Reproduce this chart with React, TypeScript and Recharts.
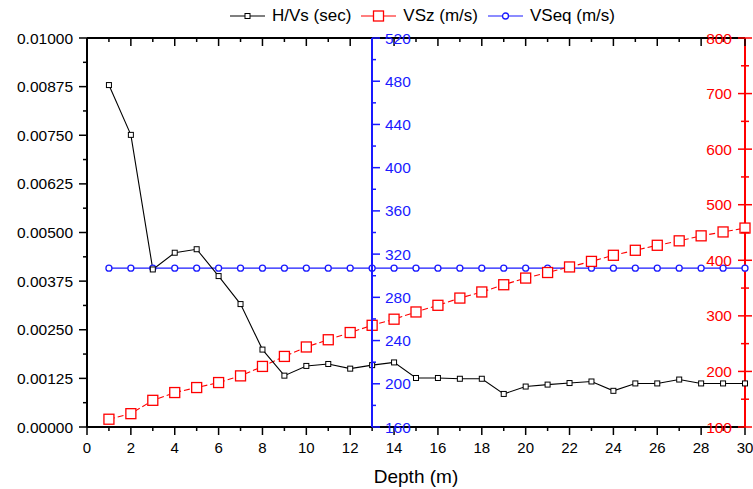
import React from "react";
import { LineChart, Line, XAxis, YAxis, Legend } from "recharts";

const W = 753;
const H = 489;

const depth = [1, 2, 3, 4, 5, 6, 7, 8, 9, 10, 11, 12, 13, 14, 15, 16, 17, 18, 19, 20, 21, 22, 23, 24, 25, 26, 27, 28, 29, 30];
const hvs = [
  0.00879, 0.00751, 0.00405, 0.00448, 0.00457, 0.00388, 0.00316, 0.00199, 0.00132, 0.00157,
  0.00162, 0.0015, 0.00159, 0.00166, 0.00126, 0.00126, 0.00124, 0.00124, 0.00085, 0.00104,
  0.00109, 0.00113, 0.00117, 0.00093, 0.00112, 0.00112, 0.00122, 0.00112, 0.00112, 0.00112,
];
const vsz = [
  114, 124, 148, 162, 171, 180, 192, 209, 227, 244,
  257, 270, 283, 294, 307, 319, 332, 343, 356, 368,
  378, 388, 398, 409, 418, 427, 435, 444, 451, 458,
];
const vseq = [
  307, 307, 307, 307, 307, 307, 307, 307, 307, 307,
  307, 307, 307, 307, 307, 307, 307, 307, 307, 307,
  307, 307, 307, 307, 307, 307, 307, 307, 307, 307,
];

const depthTicks = [0, 1, 2, 3, 4, 5, 6, 7, 8, 9, 10, 11, 12, 13, 14, 15, 16, 17, 18, 19, 20, 21, 22, 23, 24, 25, 26, 27, 28, 29, 30];
const hvsTicks = [
  0, 0.000625, 0.00125, 0.001875, 0.0025, 0.003125, 0.00375, 0.004375, 0.005,
  0.005625, 0.00625, 0.006875, 0.0075, 0.008125, 0.00875, 0.009375, 0.01,
];
const vszTicks = [100, 150, 200, 250, 300, 350, 400, 450, 500, 550, 600, 650, 700, 750, 800];
const vseqTicks = [160, 180, 200, 220, 240, 260, 280, 300, 320, 340, 360, 380, 400, 420, 440, 460, 480, 500, 520];

const seriesOrder = ["hvs", "vsz", "vseq"];
const seriesNames: Record<string, string> = { hvs: "H/Vs (sec)", vsz: "VSz (m/s)", vseq: "VSeq (m/s)" };

const BLACK = "#000000";
const RED = "#ff0000";
const BLUE = "#1a1aff";
const FONT = "'Liberation Sans', Arial, sans-serif";

const rows = depth.map((d, i) => ({ depth: d, hvs: hvs[i], vsz: vsz[i], vseq: vseq[i] }));

// markers (also reused by the legend)
function marker(key: string, cx: number, cy: number, k?: string | number) {
  if (key === "hvs")
    return <rect key={k} x={cx - 2.5} y={cy - 2.5} width={5} height={5} fill="#fff" stroke={BLACK} strokeWidth={1} />;
  if (key === "vsz")
    return <rect key={k} x={cx - 5} y={cy - 5} width={10} height={10} fill="#fff" stroke={RED} strokeWidth={1.3} />;
  return <circle key={k} cx={cx} cy={cy} r={3} fill="#fff" stroke={BLUE} strokeWidth={1.3} />;
}

const dotFor = (key: string) => (p: any) => marker(key, p.cx, p.cy, `${key}-${p.index}`);

const near = (v: number, step: number) => Math.abs(v / step - Math.round(v / step)) < 1e-6;

function LeftTick({ x, y, payload }: any) {
  const major = near(payload.value, 0.00125);
  return (
    <g>
      <line x1={x - (major ? 8 : 4)} x2={x} y1={y} y2={y} stroke={BLACK} strokeWidth={1.5} />
      {major && (
        <text x={x - 14} y={y} dy="0.36em" textAnchor="end" fontSize={15.5} fill={BLACK}>
          {payload.value.toFixed(5)}
        </text>
      )}
    </g>
  );
}

function BottomTick({ x, y, payload }: any) {
  const major = payload.value % 2 === 0;
  return (
    <g>
      <line x1={x} x2={x} y1={y} y2={y + (major ? 8 : 4)} stroke={BLACK} strokeWidth={1.5} />
      {major && (
        <text x={x} y={y + 26} textAnchor="middle" fontSize={15} fill={BLACK}>
          {payload.value}
        </text>
      )}
    </g>
  );
}

function TopTick({ x, y, payload }: any) {
  const major = payload.value % 2 === 0;
  return <line x1={x} x2={x} y1={y} y2={y + (major ? 8 : 4)} stroke={BLACK} strokeWidth={1.5} />;
}

function RedTick({ x, y, payload }: any) {
  const major = payload.value % 100 === 0;
  const len = major ? 7 : 4;
  return (
    <g>
      <line x1={x - len} x2={x + len} y1={y} y2={y} stroke={RED} strokeWidth={1.5} />
      {major && (
        <text x={x - 13} y={y} dy="0.36em" textAnchor="end" fontSize={15.5} fill={RED}>
          {payload.value}
        </text>
      )}
    </g>
  );
}

function BlueTick({ x, y, payload }: any) {
  const major = (payload.value - 160) % 40 === 0;
  return (
    <g>
      <line x1={x} x2={x + (major ? 8 : 4)} y1={y} y2={y} stroke={BLUE} strokeWidth={1.5} />
      {major && (
        <text x={x + 13} y={y} dy="0.36em" textAnchor="start" fontSize={15.5} fill={BLUE}>
          {payload.value}
        </text>
      )}
    </g>
  );
}

function LegendContent({ payload }: any) {
  const items = [...(payload || [])].sort(
    (a: any, b: any) => seriesOrder.indexOf(a.dataKey) - seriesOrder.indexOf(b.dataKey)
  );
  return (
    <div style={{ display: "flex", alignItems: "center", fontSize: 17, color: BLACK, whiteSpace: "nowrap" }}>
      {items.map((p: any) => (
        <div key={p.dataKey} style={{ display: "flex", alignItems: "center", marginRight: 10 }}>
          <svg width={35} height={14}>
            <line x1={0} x2={35} y1={7} y2={7} stroke={p.color} strokeWidth={1.2} />
            {marker(p.dataKey, 17.5, 7)}
          </svg>
          <span style={{ marginLeft: 7 }}>{seriesNames[p.dataKey]}</span>
        </div>
      ))}
    </div>
  );
}

export default function App() {
  return (
    <div style={{ position: "absolute", left: 0, top: 0, width: W, height: H, background: "#fff", fontFamily: FONT }}>
      <div style={{ position: "absolute", left: 0, top: 0 }}>
        <LineChart width={W} height={H} data={rows} margin={{ top: 37, right: 7, bottom: 61, left: 86 }}>
          <XAxis xAxisId="bottom" dataKey="depth" type="number" domain={[0, 30]} ticks={depthTicks} interval={0}
            height={1} tickSize={0} tickMargin={0} tickLine={false} tick={BottomTick}
            axisLine={{ stroke: BLACK, strokeWidth: 2 }}
            label={{ value: "Depth (m)", position: "bottom", offset: 42, fontSize: 19, fill: BLACK }} />
          <XAxis xAxisId="top" orientation="top" dataKey="depth" type="number" domain={[0, 30]} ticks={depthTicks}
            interval={0} height={1} tickSize={0} tickMargin={0} tickLine={false} tick={TopTick}
            axisLine={{ stroke: BLACK, strokeWidth: 2 }} />
          <YAxis yAxisId="hvs" domain={[0, 0.01]} ticks={hvsTicks} interval={0} width={1} tickSize={0} tickMargin={0}
            tickLine={false} tick={LeftTick} axisLine={{ stroke: BLACK, strokeWidth: 2 }} />
          <YAxis yAxisId="vsz" orientation="right" domain={[100, 800]} ticks={vszTicks} interval={0} width={1}
            tickSize={0} tickMargin={0} tickLine={false} tick={RedTick} axisLine={{ stroke: RED, strokeWidth: 2 }} />
          <YAxis yAxisId="vseq" domain={[160, 520]} hide />
          <Legend layout="vertical" verticalAlign="middle" align="center" content={LegendContent}
            wrapperStyle={{ left: 230, top: 6, width: 420 }} />
          <Line xAxisId="bottom" yAxisId="vseq" dataKey="vseq" name={seriesNames.vseq} type="linear" stroke={BLUE}
            strokeWidth={1.4} dot={dotFor("vseq")} activeDot={false} isAnimationActive={false} />
          <Line xAxisId="bottom" yAxisId="vsz" dataKey="vsz" name={seriesNames.vsz} type="linear" stroke={RED}
            strokeWidth={1.1} strokeDasharray="6 3" dot={dotFor("vsz")} activeDot={false} isAnimationActive={false} />
          <Line xAxisId="bottom" yAxisId="hvs" dataKey="hvs" name={seriesNames.hvs} type="linear" stroke={BLACK}
            strokeWidth={1.1} dot={dotFor("hvs")} activeDot={false} isAnimationActive={false} />
        </LineChart>
      </div>
      {/* VSeq axis sits inside the plot at depth 13 */}
      <div style={{ position: "absolute", left: 0, top: 0, pointerEvents: "none" }}>
        <LineChart width={W} height={H} data={rows} margin={{ top: 38, right: 8, bottom: 62, left: 371 }}>
          <XAxis dataKey="depth" type="number" domain={[13, 30]} allowDataOverflow hide />
          <YAxis yAxisId="vseq" type="number" domain={[160, 520]} allowDataOverflow ticks={vseqTicks} interval={0}
            width={1} tickSize={0} tickMargin={0} tickLine={false} tick={BlueTick}
            axisLine={{ stroke: BLUE, strokeWidth: 2 }} />
          <Line yAxisId="vseq" dataKey="vseq" stroke="none" dot={false} activeDot={false} legendType="none"
            isAnimationActive={false} />
        </LineChart>
      </div>
    </div>
  );
}
